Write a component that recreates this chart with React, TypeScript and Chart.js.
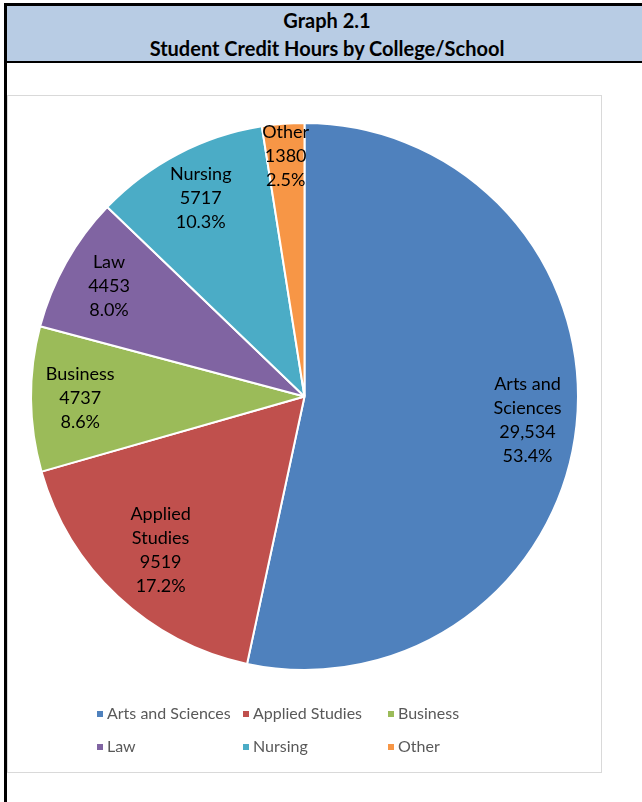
import React, { useEffect, useRef } from "react";
import { Chart, registerables } from "chart.js";

Chart.register(...registerables);

const categories = ["Arts and Sciences", "Applied Studies", "Business", "Law", "Nursing", "Other"];
const creditHours = [29534, 9519, 4737, 4453, 5717, 1380];
const valueText = ["29,534", "9519", "4737", "4453", "5717", "1380"];
const sliceColors = ["#4f81bd", "#c0504d", "#9bbb59", "#8064a2", "#4bacc6", "#f79646"];

const FONT = "Lato, 'Open Sans', sans-serif";

function wrapLabel(s: string): string[] {
  if (s.length > 10 && s.includes(" ")) {
    const i = s.lastIndexOf(" ");
    return [s.slice(0, i), s.slice(i + 1)];
  }
  return [s];
}

const sliceLabelPlugin = {
  id: "sliceLabels",
  afterDatasetsDraw(chart: any) {
    const ctx = chart.ctx;
    const meta = chart.getDatasetMeta(0);
    const data = chart.data.datasets[0].data as number[];
    const total = data.reduce((a, b) => a + b, 0);
    ctx.save();
    ctx.fillStyle = "#000000";
    ctx.font = `18px ${FONT}`;
    ctx.textAlign = "center";
    ctx.textBaseline = "middle";
    meta.data.forEach((arc: any, i: number) => {
      const p = arc.getProps(["x", "y", "startAngle", "endAngle", "outerRadius"], true);
      const frac = data[i] / total;
      const mid = (p.startAngle + p.endAngle) / 2;
      const r = p.outerRadius * (frac < 0.05 ? 0.88 : frac > 0.15 && frac < 0.5 ? 0.77 : 0.82);
      const cx = p.x + Math.cos(mid) * r;
      const cy = p.y + Math.sin(mid) * r;
      const lines = [...wrapLabel(categories[i]), valueText[i], (frac * 100).toFixed(1) + "%"];
      const lh = 24;
      const y0 = cy - ((lines.length - 1) * lh) / 2;
      lines.forEach((t, k) => ctx.fillText(t, cx, y0 + k * lh));
    });
    ctx.restore();
  },
};

const gridLegendPlugin = {
  id: "gridLegend",
  afterDraw(chart: any) {
    const ctx = chart.ctx;
    const colX = [89, 235, 380];
    const rowY = [618, 651];
    ctx.save();
    ctx.font = `16px ${FONT}`;
    ctx.textBaseline = "middle";
    ctx.textAlign = "left";
    categories.forEach((c, i) => {
      const x = colX[i % 3];
      const y = rowY[Math.floor(i / 3)];
      ctx.fillStyle = sliceColors[i];
      ctx.fillRect(x, y - 3, 6, 6);
      ctx.fillStyle = "#595959";
      ctx.fillText(c, x + 10, y);
    });
    ctx.restore();
  },
};

function PieChart() {
  const ref = useRef<HTMLCanvasElement>(null);
  useEffect(() => {
    if (!ref.current) return;
    const chart = new Chart(ref.current, {
      type: "pie",
      data: {
        labels: categories,
        datasets: [
          {
            data: creditHours,
            backgroundColor: sliceColors,
            borderColor: "#ffffff",
            borderWidth: 2,
          },
        ],
      },
      options: {
        animation: false,
        responsive: false,
        maintainAspectRatio: false,
        layout: { padding: { left: 22, right: 22, top: 26, bottom: 101 } },
        plugins: {
          legend: { display: false },
          tooltip: { enabled: false },
          title: { display: false },
        },
      },
      plugins: [sliceLabelPlugin, gridLegendPlugin],
    });
    return () => chart.destroy();
  }, []);
  return <canvas ref={ref} width={593} height={676} style={{ width: 593, height: 676, display: "block" }} />;
}

export default function App() {
  return (
    <div
      style={{
        position: "absolute",
        left: 0,
        top: 0,
        width: 642,
        height: 802,
        overflow: "hidden",
        background: "#ffffff",
        fontFamily: FONT,
      }}
    >
      <div style={{ position: "absolute", left: 4, top: 3, width: 3, height: 799, background: "#000" }} />
      <div
        style={{
          position: "absolute",
          left: 7,
          top: 3,
          width: 640,
          height: 60,
          background: "#b8cce4",
          borderTop: "3px solid #000",
          borderBottom: "2px solid #000",
          boxSizing: "border-box",
          textAlign: "center",
          fontWeight: 700,
          fontSize: 20,
          color: "#000",
          lineHeight: "28px",
          paddingTop: 0,
        }}
      >
        <div>Graph 2.1</div>
        <div>Student Credit Hours by College/School</div>
      </div>
      <div
        style={{
          position: "absolute",
          left: 7,
          top: 95,
          width: 595,
          height: 678,
          border: "1px solid #d9d9d9",
          boxSizing: "border-box",
        }}
      >
        <PieChart />
      </div>
    </div>
  );
}
